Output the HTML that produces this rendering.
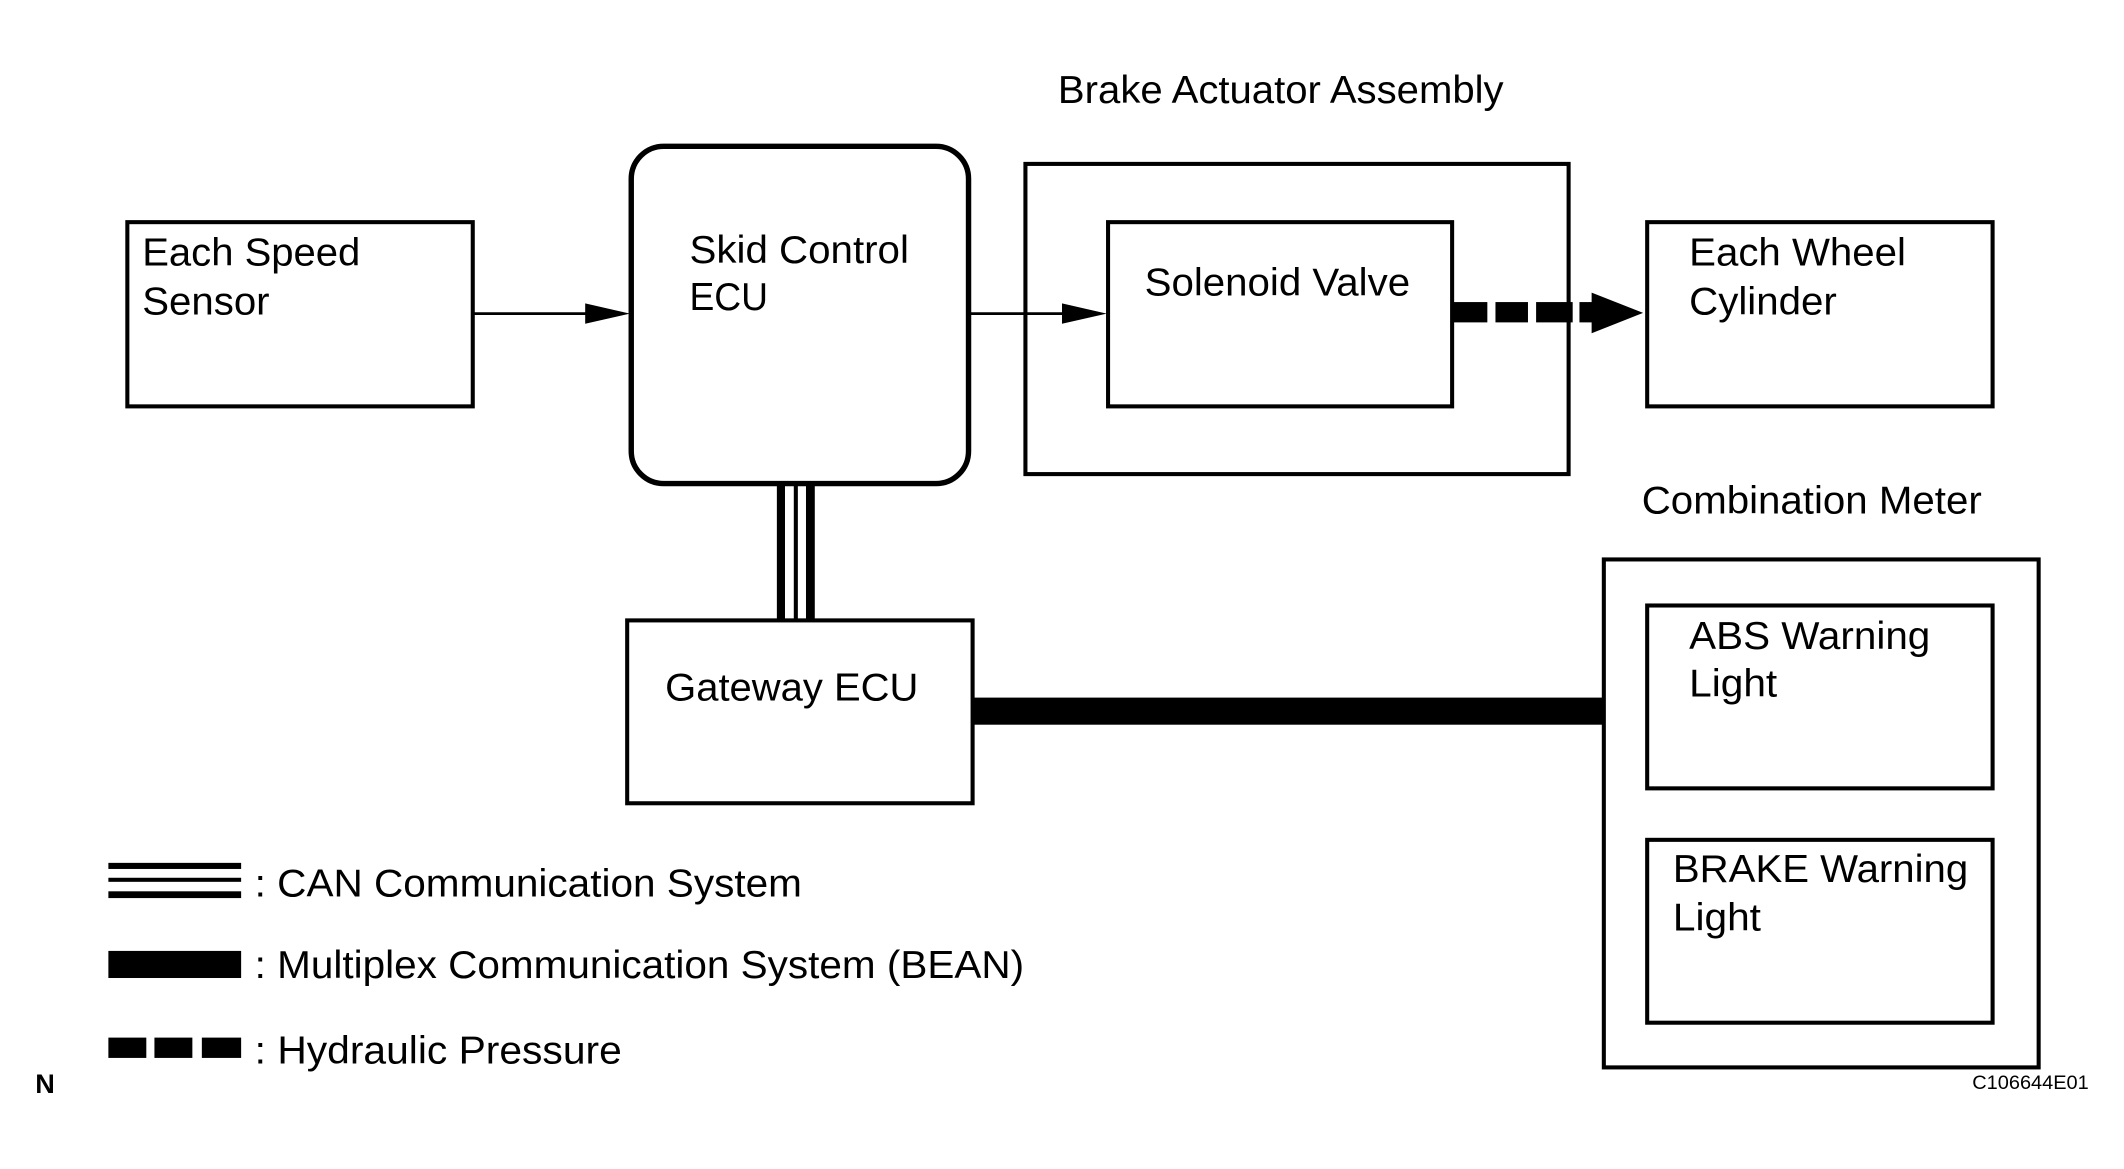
<!DOCTYPE html>
<html><head><meta charset="utf-8"><style>
html,body{margin:0;padding:0;background:#fff;}
svg{display:block;}
text{font-family:"Liberation Sans",Arial,sans-serif;fill:#000;}
</style></head><body>
<svg width="2124" height="1169" viewBox="0 0 1568 863" xmlns="http://www.w3.org/2000/svg">
<g fill="none" stroke="#000" stroke-width="3">
<rect x="94" y="164" width="255" height="136"/>
<rect x="466" y="108" width="249" height="249" rx="24" stroke-width="4"/>
<rect x="757" y="121" width="401" height="229"/>
<rect x="818" y="164" width="254" height="136"/>
<rect x="1216" y="164" width="255" height="136"/>
<rect x="463" y="458" width="255" height="135"/>
<rect x="1184" y="413" width="321" height="375"/>
<rect x="1216" y="447" width="255" height="135"/>
<rect x="1216" y="620" width="255" height="135"/>
</g>
<line x1="349" y1="231.5" x2="440" y2="231.5" stroke="#000" stroke-width="2"/>
<polygon points="432,224 465,231.5 432,239" fill="#000"/>
<line x1="715" y1="231.5" x2="790" y2="231.5" stroke="#000" stroke-width="2"/>
<polygon points="784,224 817,231.5 784,239" fill="#000"/>
<g fill="#000">
<rect x="1072" y="223" width="26" height="15"/>
<rect x="1104" y="223" width="24" height="15"/>
<rect x="1134" y="223" width="27" height="15"/>
<rect x="1166" y="223" width="12" height="15"/>
<polygon points="1175,216 1213,231 1175,246"/>
</g>
<g fill="#000">
<rect x="573.5" y="357" width="6" height="100"/>
<rect x="586" y="357" width="3" height="100"/>
<rect x="595" y="357" width="6.5" height="100"/>
</g>
<rect x="718" y="515" width="466" height="20" fill="#000"/>
<g fill="#000">
<rect x="80" y="637" width="98" height="4.5"/>
<rect x="80" y="648" width="98" height="3"/>
<rect x="80" y="658" width="98" height="5"/>
<rect x="80" y="702" width="98" height="20"/>
<rect x="80" y="766" width="28" height="15"/>
<rect x="114" y="766" width="28" height="15"/>
<rect x="149" y="766" width="29" height="15"/>
</g>
<g font-size="29" lengthAdjust="spacingAndGlyphs">
<text x="781" y="76" textLength="329" lengthAdjust="spacingAndGlyphs">Brake Actuator Assembly</text>
<text x="105" y="196" textLength="161" lengthAdjust="spacingAndGlyphs">Each Speed</text>
<text x="105" y="232" textLength="94" lengthAdjust="spacingAndGlyphs">Sensor</text>
<text x="509" y="194" textLength="162" lengthAdjust="spacingAndGlyphs">Skid Control</text>
<text x="509" y="229" textLength="58" lengthAdjust="spacingAndGlyphs">ECU</text>
<text x="845" y="218" textLength="196" lengthAdjust="spacingAndGlyphs">Solenoid Valve</text>
<text x="1247" y="196" textLength="160" lengthAdjust="spacingAndGlyphs">Each Wheel</text>
<text x="1247" y="232" textLength="109" lengthAdjust="spacingAndGlyphs">Cylinder</text>
<text x="1212" y="379" textLength="251" lengthAdjust="spacingAndGlyphs">Combination Meter</text>
<text x="491" y="517" textLength="187" lengthAdjust="spacingAndGlyphs">Gateway ECU</text>
<text x="1247" y="479" textLength="178" lengthAdjust="spacingAndGlyphs">ABS Warning</text>
<text x="1247" y="514" textLength="65" lengthAdjust="spacingAndGlyphs">Light</text>
<text x="1235" y="651" textLength="218" lengthAdjust="spacingAndGlyphs">BRAKE Warning</text>
<text x="1235" y="687" textLength="65" lengthAdjust="spacingAndGlyphs">Light</text>
<text x="188" y="662" textLength="404" lengthAdjust="spacingAndGlyphs">: CAN Communication System</text>
<text x="188" y="722" textLength="568" lengthAdjust="spacingAndGlyphs">: Multiplex Communication System (BEAN)</text>
<text x="188" y="785" textLength="271" lengthAdjust="spacingAndGlyphs">: Hydraulic Pressure</text>
</g>
<text x="26" y="807" font-size="20" font-weight="bold">N</text>
<text x="1456" y="804" font-size="14" textLength="86" lengthAdjust="spacingAndGlyphs">C106644E01</text>
</svg>
</body></html>
